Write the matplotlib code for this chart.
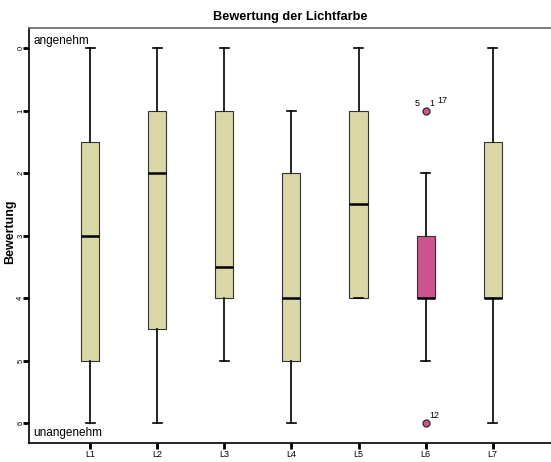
import matplotlib
matplotlib.use("Agg")
import matplotlib.pyplot as plt

plt.rcParams['font.family'] = ['Liberation Sans', 'DejaVu Sans']

labels = ['L1', 'L2', 'L3', 'L4', 'L5', 'L6', 'L7']
whislo = [0, 0, 0, 1, 0, 2, 0]
q1 = [1.5, 1, 1, 2, 1, 3, 1.5]
med = [3, 2, 3.5, 4, 2.5, 4, 4]
q3 = [5, 4.5, 4, 5, 4, 4, 4]
whishi = [6, 6, 5, 6, 4, 5, 6]
fliers = [[], [], [], [], [], [1, 6], []]

box_colors = ['#d9d7a6'] * 7
box_colors[5] = '#cc5590'

stats = []
for i in range(len(labels)):
    stats.append(dict(label=labels[i], whislo=whislo[i], q1=q1[i], med=med[i],
                      q3=q3[i], whishi=whishi[i], fliers=fliers[i]))

fig = plt.figure(figsize=(5.51, 4.62), dpi=100)
ax = fig.add_axes([0.053, 0.041, 0.947, 0.898])

bp = ax.bxp(stats, positions=range(1, 8), widths=0.27, patch_artist=True,
            boxprops=dict(edgecolor='#333333', linewidth=0.8),
            medianprops=dict(color='black', linewidth=1.8),
            whiskerprops=dict(color='black', linewidth=1.2),
            capprops=dict(color='black', linewidth=1.2),
            capwidths=0.14,
            flierprops=dict(marker='o', markerfacecolor='#cc5590',
                            markeredgecolor='#333333', markersize=5))
for patch, c in zip(bp['boxes'], box_colors):
    patch.set_facecolor(c)

# Fallnummern der Ausreisser bei L6
ax.text(5.88, 0.93, '5', fontsize=6.5, ha='center', va='baseline')
ax.text(6.09, 0.93, '1', fontsize=6.5, ha='center', va='baseline')
ax.text(6.25, 0.88, '17', fontsize=6.5, ha='center', va='baseline')
ax.text(6.13, 5.92, '12', fontsize=6.5, ha='center', va='baseline')

ax.set_xlim(0.09, 7.87)
ax.set_ylim(6.32, -0.32)
ax.set_yticks(range(7))
ax.set_yticklabels([str(v) for v in range(7)], rotation=90, va='center', fontsize=5.5)
ax.set_xticks(range(1, 8))
ax.set_xticklabels(labels, fontsize=6.5)
ax.tick_params(length=4, width=2, color='black', pad=1)
ax.tick_params(axis='y', pad=-0.5)

ax.spines['right'].set_visible(False)
ax.spines['top'].set_color('#666666')
ax.spines['top'].set_linewidth(1.2)
ax.spines['left'].set_linewidth(1.2)
ax.spines['bottom'].set_linewidth(1.2)

ax.text(0.15, -0.02, 'angenehm', fontsize=8.5, ha='left', va='bottom')
ax.text(0.15, 6.06, 'unangenehm', fontsize=8.5, ha='left', va='top')

ax.set_ylabel('Bewertung', fontsize=9, fontweight='bold')
ax.yaxis.set_label_coords(-0.026, 0.51)
ax.set_title('Bewertung der Lichtfarbe', fontsize=9.2, fontweight='bold', pad=6)

fig.savefig('out.png', dpi=100)
